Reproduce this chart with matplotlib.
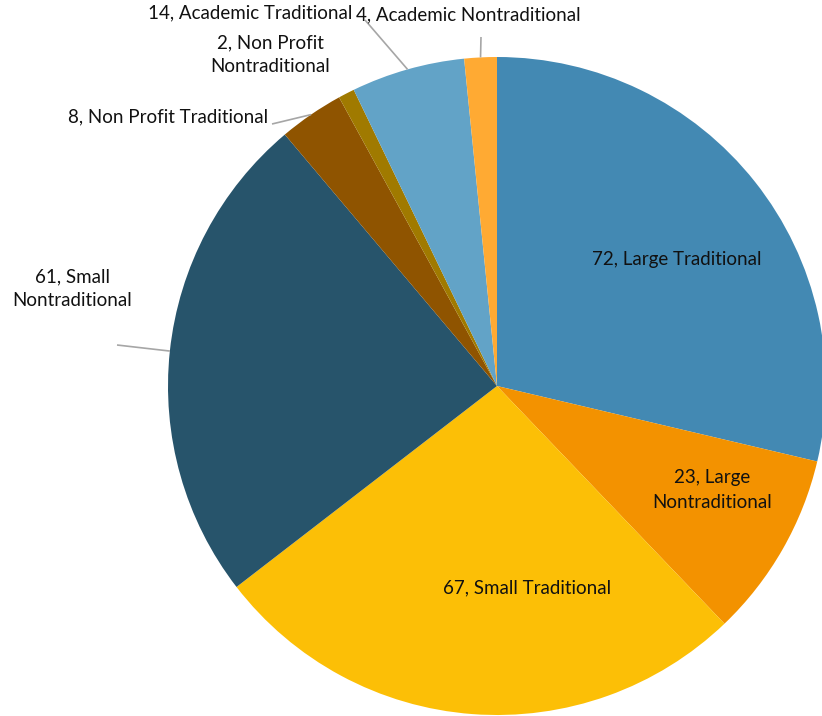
import numpy as np
import matplotlib
matplotlib.use("Agg")
import matplotlib.pyplot as plt

# data, clockwise from 12 o'clock
categories = ['Large Traditional', 'Large Nontraditional', 'Small Traditional',
              'Small Nontraditional', 'Non Profit Traditional',
              'Non Profit Nontraditional', 'Academic Traditional',
              'Academic Nontraditional']
counts = [72, 23, 67, 61, 8, 2, 14, 4]
label_text = ['72, Large Traditional', '23, Large\nNontraditional',
              '67, Small Traditional', '61, Small\nNontraditional',
              '8, Non Profit Traditional', '2, Non Profit\nNontraditional',
              '14, Academic Traditional', '4, Academic Nontraditional']
colors = ['#4389B3', '#F39200', '#FCBF06', '#27546B',
          '#8F5400', '#A07A00', '#62A3C7', '#FFAA33']

W, H = 822, 716
# label anchor points in pixel coords (x, y from top), alignment, leader end
label_pos = [(677, 260, 'center'), (712, 490, 'center'), (527, 588, 'center'),
             (72, 289, 'center'), (268, 117, 'right'), (270, 55, 'center'),
             (250, 13, 'center'), (468, 15, 'center')]
leader_end = [None, None, None, (117, 345), (272, 124), None, (365, 20), (481, 37)]

plt.rcParams['font.family'] = ['Lato', 'DejaVu Sans']

fig = plt.figure(figsize=(W / 100, H / 100), dpi=100)
ax = fig.add_axes([0, 0, 1, 1])

cx, cy, R = 497, H - 386, 329
wedges, _ = ax.pie(counts, colors=colors, startangle=90, counterclock=False,
                   center=(cx, cy), radius=R, frame=True,
                   wedgeprops=dict(linewidth=0))
ax.set_xlim(0, W)
ax.set_ylim(0, H)
ax.set_aspect('equal')
ax.axis('off')

for i, w in enumerate(wedges):
    x, y, ha = label_pos[i]
    ax.text(x, H - y, label_text[i], ha=ha, va='center', fontsize=13.5,
            color='#111111', linespacing=1.5)
    if leader_end[i] is not None:
        mid = np.deg2rad((w.theta1 + w.theta2) / 2)
        rx, ry = cx + R * np.cos(mid), cy + R * np.sin(mid)
        ex, ey = leader_end[i]
        ax.plot([rx, ex], [ry, H - ey], color='#a6a6a6', lw=1.2,
                solid_capstyle='butt')

fig.savefig('out.png', dpi=100)
